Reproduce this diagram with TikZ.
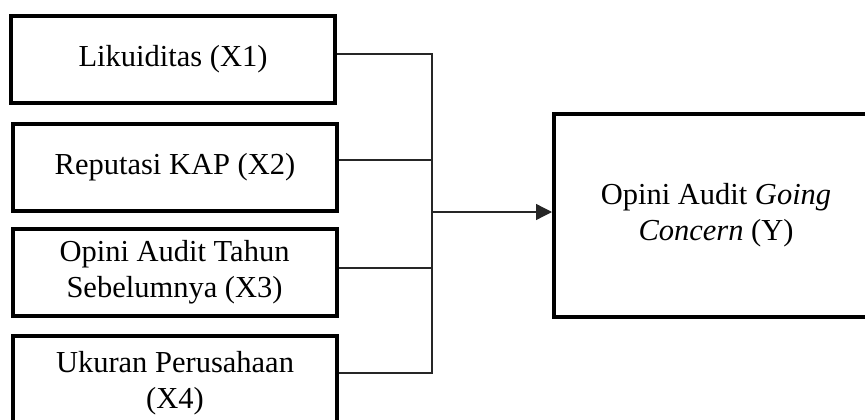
\documentclass[tikz,border=0pt]{standalone}
\usepackage{fontspec}
\setmainfont{Liberation Serif}
\usetikzlibrary{arrows.meta,calc}
\tikzset{
  varbox/.style={draw=black, line width=4pt, minimum width=324pt, minimum height=87pt,
    inner sep=0pt, align=center, font=\fontsize{30.5}{36}\selectfont},
  conn/.style={draw=black!85, line width=1.3pt},
}
\begin{document}
\begin{tikzpicture}[x=1pt,y=-1pt]
\useasboundingbox (0,0) rectangle (865,420);
\clip (0,0) rectangle (865,420);
\node[varbox] (b1) at (173,59.5) {Likuiditas (X1)};
\node[varbox] (b2) at (175,167.5) {Reputasi KAP (X2)};
\node[varbox] (b3) at (174.5,272.5) {Opini Audit Tahun\\Sebelumnya (X3)};
\node[varbox, minimum height=95pt] (b4) at (175,383.5) {Ukuran Perusahaan\\(X4)};
\node[varbox, minimum height=203pt] (y) at (716,215.5) {Opini Audit \textit{Going}\\\textit{Concern} (Y)};
\coordinate (top) at (432,54);
\coordinate (bot) at (432,373);
\coordinate (j) at (432,212);
\draw[conn] (b1.east |- top) -- (top) -- (bot) -- (b4.east |- bot);
\draw[conn] (b2.east |- 0,160) -- (433,160);
\draw[conn] (b3.east |- 0,268) -- (433,268);
\draw[conn, -{Triangle[length=16pt,width=16pt]}] (j) -- (j -| y.west);
\end{tikzpicture}
\end{document}
